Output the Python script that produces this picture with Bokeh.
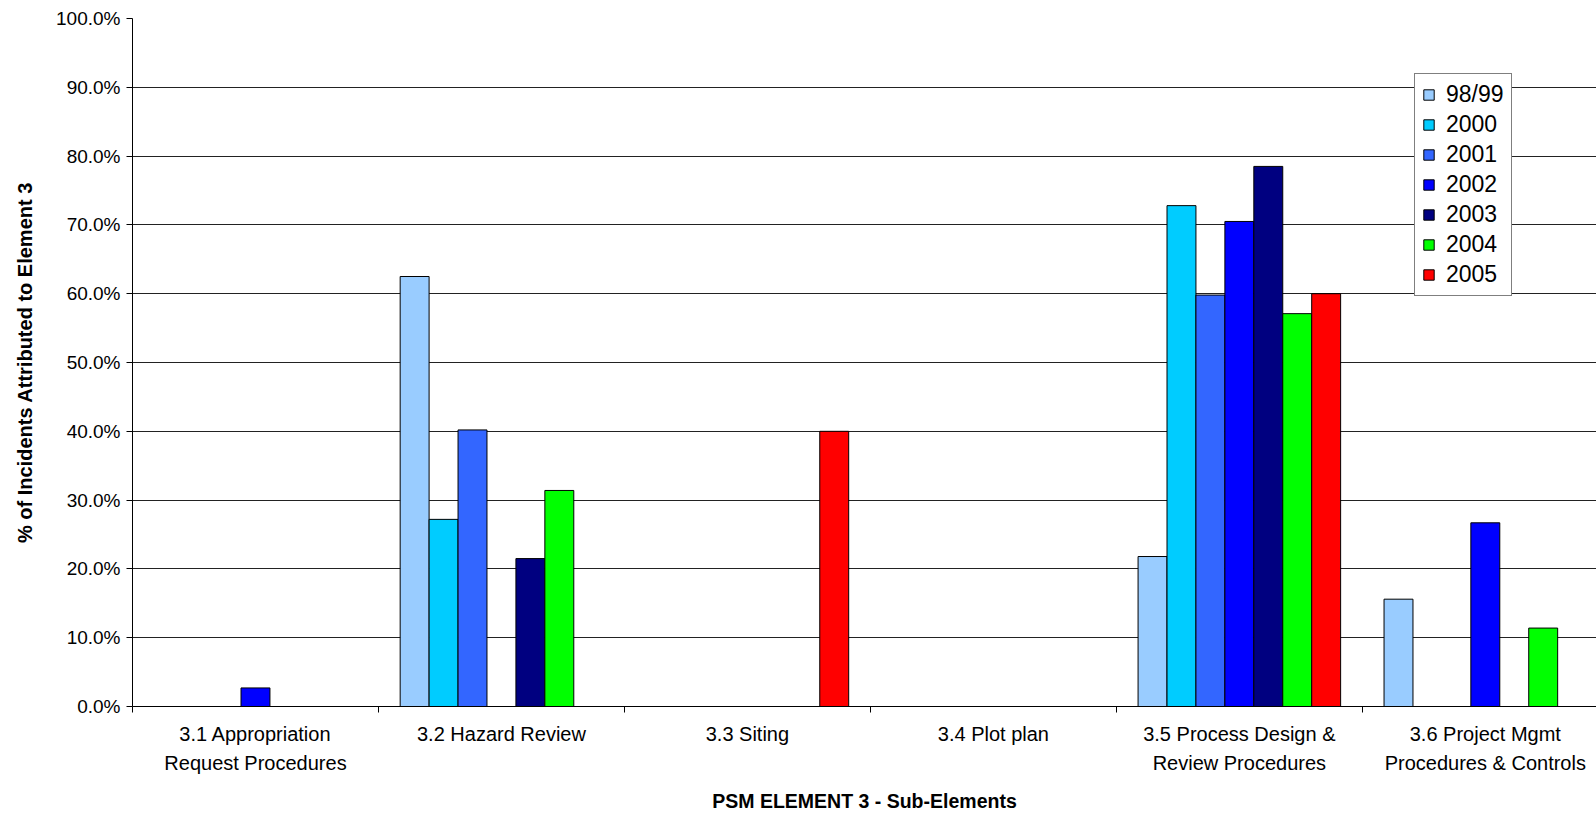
from bokeh.plotting import figure
from bokeh.models import (ColumnDataSource, Range1d, FixedTicker, PrintfTickFormatter,
                          Legend, LegendItem)
from bokeh.transform import dodge
from bokeh.embed import file_html
from bokeh.resources import INLINE

# Sub-element categories (x axis) and reporting years (series)
categories = [
    "3.1 Appropriation\nRequest Procedures",
    "3.2 Hazard Review",
    "3.3 Siting",
    "3.4 Plot plan",
    "3.5 Process Design &\nReview Procedures",
    "3.6 Project Mgmt\nProcedures & Controls",
]
years = ["98/99", "2000", "2001", "2002", "2003", "2004", "2005"]

# % of incidents attributed to Element 3, one list per year (None = no bar)
v_9899 = [None, 62.5, None, None, 21.8, 15.6]
v_2000 = [None, 27.2, None, None, 72.8, None]
v_2001 = [None, 40.2, None, None, 59.8, None]
v_2002 = [2.7, None, None, None, 70.5, 26.7]
v_2003 = [None, 21.5, None, None, 78.5, None]
v_2004 = [None, 31.4, None, None, 57.1, 11.4]
v_2005 = [None, None, 40.0, None, 60.0, None]
series = [v_9899, v_2000, v_2001, v_2002, v_2003, v_2004, v_2005]

colors = ["#99CCFF", "#00CCFF", "#3366FF", "#0000FF", "#000080", "#00FF00", "#FF0000"]

y_ticks = list(range(0, 101, 10))

FONT = "Liberation Sans"

p = figure(
    width=1596, height=815,
    x_range=Range1d(0, 5.952), y_range=Range1d(0, 100),
    output_backend="svg", toolbar_location=None,
    min_border_left=132, min_border_right=0, min_border_top=18, min_border_bottom=108,
)
p.outline_line_color = None
p.background_fill_color = "white"

# bar geometry: 7 bars per group with a 150% gap
n = len(years)
bw = 1.0 / (n + 1.5)

items = []
for j, (yr, vals, col) in enumerate(zip(years, series, colors)):
    xs = [i + 0.5 for i, v in enumerate(vals) if v is not None]
    ys = [v for v in vals if v is not None]
    src = ColumnDataSource(dict(x=xs, top=ys))
    r = p.vbar(x=dodge("x", (j - (n - 1) / 2) * bw), top="top", width=bw, bottom=0,
               source=src, fill_color=col, line_color="black", line_width=1)
    items.append(LegendItem(label=yr, renderers=[r]))

# x axis: labels at group centres, small ticks at group boundaries
xa = p.xaxis[0]
xa.ticker = FixedTicker(ticks=[i + 0.5 for i in range(len(categories))],
                        minor_ticks=list(range(len(categories) + 1)))
xa.major_label_overrides = {i + 0.5: c for i, c in enumerate(categories)}
xa.major_tick_out = 0
xa.major_tick_in = 0
xa.minor_tick_out = 6
xa.minor_tick_in = 0
xa.minor_tick_line_color = "black"
xa.axis_line_color = "black"
xa.major_label_text_font = FONT
xa.major_label_text_font_size = "20px"
xa.major_label_text_color = "black"
xa.major_label_text_line_height = 1.35
xa.major_label_standoff = 10
xa.axis_label = "PSM ELEMENT 3 - Sub-Elements"
xa.axis_label_text_font = FONT
xa.axis_label_text_font_size = "19.5px"
xa.axis_label_text_font_style = "bold"
xa.axis_label_text_color = "black"
xa.axis_label_standoff = 13

ya = p.yaxis[0]
ya.ticker = FixedTicker(ticks=y_ticks, minor_ticks=[])
ya.formatter = PrintfTickFormatter(format="%.1f%%")
ya.major_tick_out = 6
ya.major_tick_in = 0
ya.major_tick_line_color = "black"
ya.axis_line_color = "black"
ya.major_label_text_font = FONT
ya.major_label_text_font_size = "19px"
ya.major_label_text_color = "black"
ya.major_label_standoff = 6
ya.axis_label = "% of Incidents Attributed to Element 3"
ya.axis_label_text_font = FONT
ya.axis_label_text_font_size = "20px"
ya.axis_label_text_font_style = "bold"
ya.axis_label_text_color = "black"
ya.axis_label_standoff = 17

p.xgrid.visible = False
p.ygrid.ticker = FixedTicker(ticks=y_ticks[1:])
p.ygrid.grid_line_color = "#222222"
p.ygrid.grid_line_width = 1

legend = Legend(items=items, location=(1282, 410), margin=0)
legend.border_line_color = "black"
legend.border_line_width = 1
legend.background_fill_color = "white"
legend.background_fill_alpha = 1
legend.label_text_font = FONT
legend.label_text_font_size = "23px"
legend.label_text_color = "black"
legend.glyph_width = 13
legend.glyph_height = 13
legend.label_height = 22
legend.label_standoff = 11
legend.spacing = 3
legend.padding = 7
p.add_layout(legend, "center")

open("out.html", "w").write(file_html(p, INLINE))
